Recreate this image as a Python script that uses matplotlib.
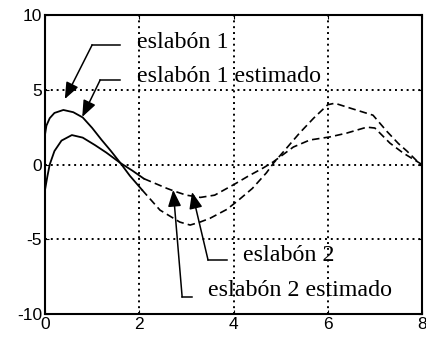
import matplotlib
matplotlib.use("Agg")
import matplotlib.pyplot as plt

# eslabón 1 (solid part, 0 <= t <= ~2.1)
t_e1 = [0.0, 0.03, 0.1, 0.2, 0.39, 0.6, 0.8, 1.0, 1.2, 1.4, 1.6, 1.8, 2.06]
y_e1 = [2.0, 2.6, 3.1, 3.45, 3.65, 3.5, 3.15, 2.45, 1.65, 0.9, 0.1, -0.75, -1.7]

t_e1_est = [0.0, 0.05, 0.1, 0.2, 0.35, 0.57, 0.8, 1.06, 1.3, 1.6, 1.85, 2.1]
y_e1_est = [-1.7, -0.8, 0.0, 0.9, 1.6, 1.97, 1.8, 1.3, 0.8, 0.1, -0.4, -0.95]

# eslabón 2 (dashed part, ~2.1 <= t <= 8)
t_e2 = [2.1, 2.59, 2.76, 3.0, 3.3, 3.6, 4.03, 4.3, 4.63, 4.84, 5.27, 5.62,
        6.05, 6.4, 6.83, 7.0, 7.32, 7.6, 8.0]
y_e2 = [-0.95, -1.6, -1.8, -2.05, -2.2, -2.05, -1.3, -0.8, -0.23, 0.17, 1.17,
        1.64, 1.85, 2.1, 2.5, 2.44, 1.43, 0.77, 0.0]

t_e2_est = [2.06, 2.44, 2.86, 3.08, 3.29, 3.5, 3.86, 4.1, 4.4, 4.7, 4.85, 5.1,
            5.4, 5.7, 6.0, 6.15, 6.5, 6.96, 7.26, 7.5, 7.68, 8.0]
y_e2_est = [-1.7, -3.05, -3.85, -4.05, -3.85, -3.6, -3.0, -2.4, -1.6, -0.55,
            0.1, 1.0, 2.1, 3.1, 4.0, 4.1, 3.75, 3.3, 2.2, 1.4, 0.9, -0.1]

x_ticks = [0, 2, 4, 6, 8]
y_ticks = [-10, -5, 0, 5, 10]

# label text, arrow tip, elbow, end of horizontal leader, text position
labels = [
    ("eslabón 1", (0.42, 4.38), (1.0, 8.0), (1.59, 8.0), (1.95, 8.15)),
    ("eslabón 1 estimado", (0.79, 3.18), (1.17, 5.65), (1.59, 5.65), (1.95, 5.9)),
    ("eslabón 2", (3.12, -1.84), (3.46, -6.39), (3.86, -6.39), (4.2, -6.1)),
    ("eslabón 2 estimado", (2.72, -1.7), (2.91, -8.86), (3.12, -8.86), (3.46, -8.45)),
]

fig = plt.figure(figsize=(4.27, 3.42), dpi=100)
ax = fig.add_axes([0.1054, 0.0819, 0.8829, 0.8741])

ax.plot(t_e1, y_e1, color="black", lw=1.3)
ax.plot(t_e1_est, y_e1_est, color="black", lw=1.3)
ax.plot(t_e2, y_e2, color="black", lw=1.2, linestyle=(0, (4.5, 2.5)))
ax.plot(t_e2_est, y_e2_est, color="black", lw=1.2, linestyle=(0, (4.5, 2.5)))

for text, tip, elbow, end, pos in labels:
    ax.plot([elbow[0], end[0]], [elbow[1], end[1]], color="black", lw=1.1)
    ax.annotate("", xy=tip, xytext=elbow,
                arrowprops=dict(arrowstyle="-|>,head_length=1.0,head_width=0.4",
                                color="black", lw=1.1, shrinkA=0, shrinkB=0))
    ax.text(pos[0], pos[1], text, fontsize=17.3, family="Liberation Serif",
            ha="left", va="center")

ax.set_xlim(0, 8)
ax.set_ylim(-10, 10)
ax.set_xticks(x_ticks)
ax.set_yticks(y_ticks)
ax.set_xticklabels([str(v) for v in x_ticks], family="Liberation Sans", fontsize=12.5)
ax.set_yticklabels([str(v) for v in y_ticks], family="Liberation Sans", fontsize=12.5)
ax.tick_params(direction="in", length=3, top=True, right=True, pad=2)
ax.grid(True, color="black", linestyle=(0, (1, 2)), lw=1.4)
for s in ax.spines.values():
    s.set_linewidth(1.5)

fig.savefig("out.png", dpi=100)
